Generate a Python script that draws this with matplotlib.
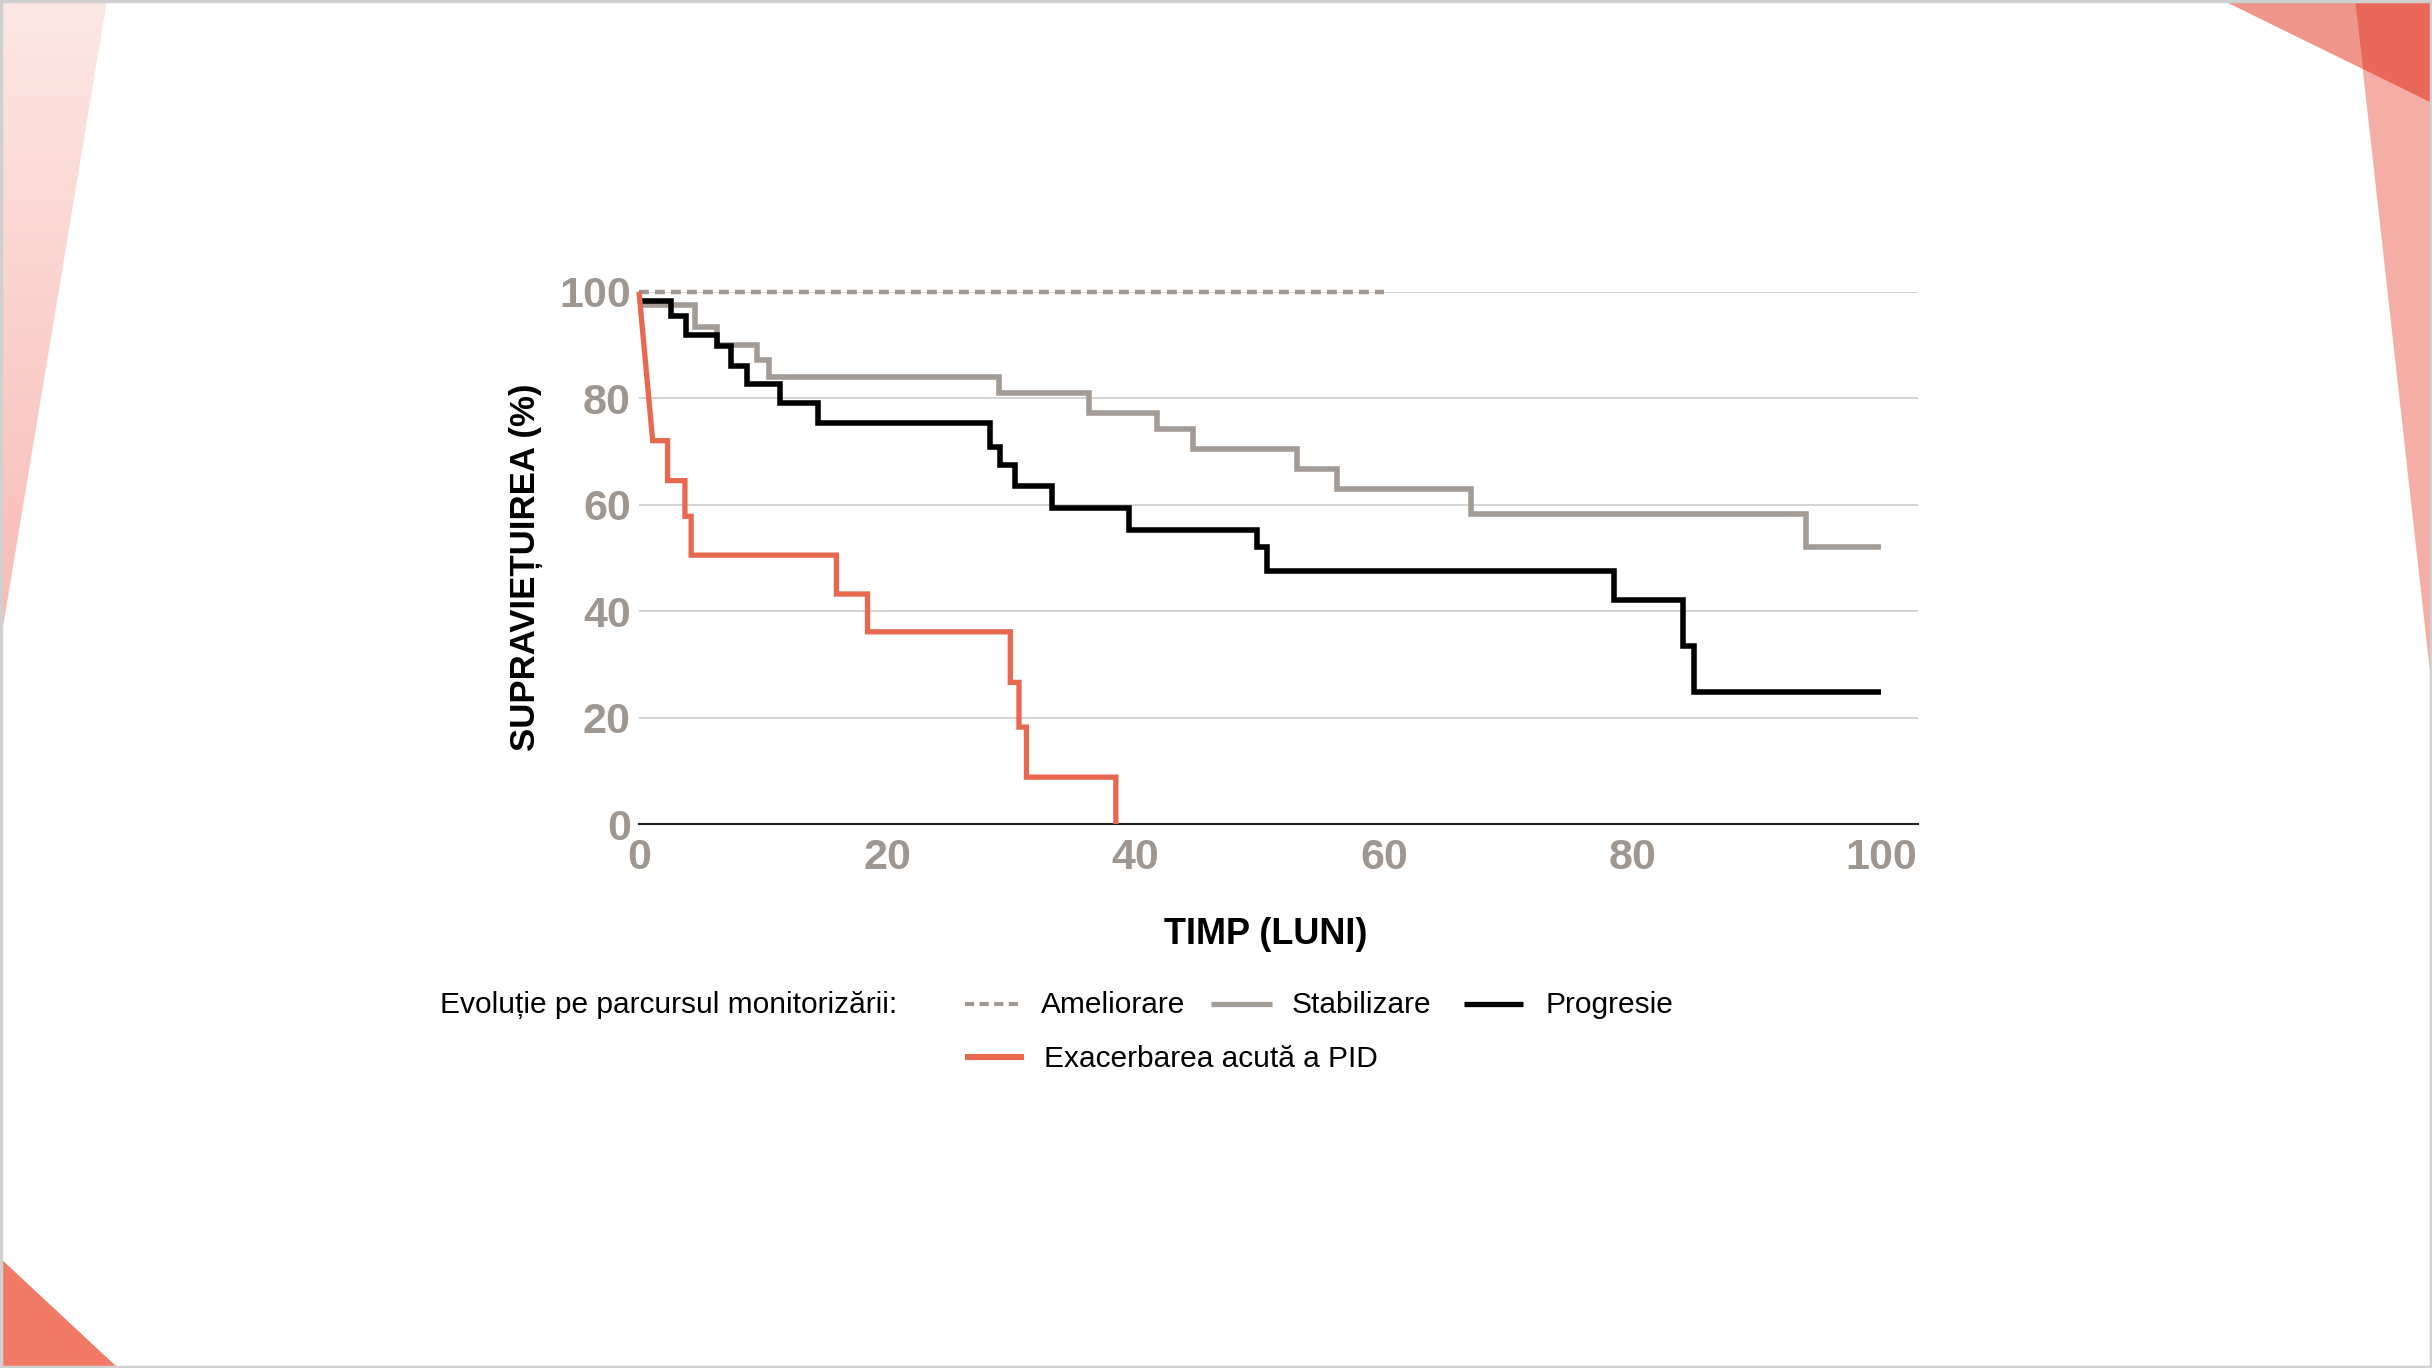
import numpy as np
import matplotlib
matplotlib.use("Agg")
import matplotlib.pyplot as plt
from matplotlib.patches import Polygon, Rectangle
from matplotlib.lines import Line2D

plt.rcParams['font.family'] = ['Liberation Sans', 'DejaVu Sans']

# --- data ---
# Ameliorare: stays at 100% until month 60
amel_t = [0, 60]
amel_s = [100, 100]

# Stabilizare: event times (months) and survival after each event (%)
stab_t = [0, 4.5, 6.3, 9.5, 10.5, 29.0, 36.2, 41.7, 44.6, 53.0, 56.2, 67.0, 94.0]
stab_s = [97.4, 93.4, 89.9, 87.1, 83.9, 81.0, 77.2, 74.2, 70.4, 66.7, 62.9, 58.2, 52.0]
stab_end = 100

# Progresie
prog_t = [0, 2.6, 3.8, 6.3, 7.4, 8.7, 11.35, 14.4, 28.25, 29.1, 30.3, 33.25,
          39.5, 49.75, 50.6, 78.5, 84.1, 85.0]
prog_s = [98.2, 95.4, 91.8, 89.8, 86.0, 82.6, 79.0, 75.3, 70.8, 67.5, 63.4, 59.3,
          55.2, 52.1, 47.6, 42.0, 33.4, 24.8]
prog_end = 100

# Exacerbarea acuta a PID (first drop drawn as a slope from 100%)
exac_t = [1.1, 2.3, 3.7, 4.2, 15.9, 18.4, 29.9, 30.6, 31.2, 38.4]
exac_s = [72, 64.5, 57.8, 50.5, 43.2, 36.1, 26.6, 18.2, 8.8, 0]

xticks = [0, 20, 40, 60, 80, 100]
yticks = [0, 20, 40, 60, 80, 100]

legend_title = "Evoluție pe parcursul monitorizării:"
names = ["Ameliorare", "Stabilizare", "Progresie", "Exacerbarea acută a PID"]

c_dash = '#A09893'
c_gray = '#A39B96'
c_black = '#000000'
c_red = '#E8674F'
c_tick = '#9E9690'

W, H = 2432, 1368
fig = plt.figure(figsize=(W / 100, H / 100), dpi=100)

# --- slide decoration ---
bg = fig.add_axes([0, 0, 1, 1], zorder=-5)
bg.set_xlim(0, W)
bg.set_ylim(H, 0)
bg.axis('off')
grad = np.linspace(0, 1, 256).reshape(-1, 1)
cmap = matplotlib.colors.LinearSegmentedColormap.from_list('pk', ['#FDE7E4', '#F8BAB3'])
im = bg.imshow(grad, cmap=cmap, extent=[0, 110, 650, 0], aspect='auto')
tri = Polygon([[0, 0], [107, 0], [0, 645]], closed=True, fc='none', ec='none')
bg.add_patch(tri)
im.set_clip_path(tri)
bg.add_patch(Polygon([[2222, 0], [2432, 0], [2432, 103]], fc='#EE968A', ec='none'))
bg.add_patch(Polygon([[2355, 0], [2432, 0], [2432, 690]], fc='#F4AEA5', ec='none'))
bg.add_patch(Polygon([[2355, 0], [2432, 0], [2432, 103], [2363, 69]], fc='#E8685A', ec='none'))
bg.add_patch(Polygon([[0, 1258], [118, 1368], [0, 1368]], fc='#F07A66', ec='none'))
bg.add_patch(Rectangle((1, 1), W - 2, H - 2, fc='none', ec='#D0D0D0', lw=2.5))

# --- chart ---
x0, x1, ytop, ybot = 639, 1918, 291.6, 824
ax = fig.add_axes([x0 / W, 1 - ybot / H, (x1 - x0) / W, (ybot - ytop) / H])
ax.set_xlim(0, 103)
ax.set_ylim(0, 100)
for s in ['top', 'right', 'left']:
    ax.spines[s].set_visible(False)
ax.spines['bottom'].set_color('#222222')
ax.spines['bottom'].set_linewidth(1.5)
ax.set_xticks(xticks)
ax.set_yticks(yticks)
ax.yaxis.grid(True, color='#CCCCCC', lw=1.2)
ax.set_axisbelow(True)
ax.tick_params(length=0, labelsize=31, labelcolor=c_tick)
ax.tick_params(axis='y', pad=6)
ax.tick_params(axis='x', pad=10)
for lab in ax.get_xticklabels() + ax.get_yticklabels():
    lab.set_fontweight('bold')

style = dict(solid_joinstyle='miter', solid_capstyle='butt', clip_on=False)

ax.plot(amel_t, amel_s, color=c_dash, lw=3.2, dashes=(2.2, 1.4), clip_on=False, zorder=3)
ax.step(stab_t + [stab_end], stab_s + [stab_s[-1]], where='post', color=c_gray, lw=4.0, zorder=4, **style)
ax.step(prog_t + [prog_end], prog_s + [prog_s[-1]], where='post', color=c_black, lw=4.0, zorder=5, **style)

ex_x, ex_y = [0], [100]
for i, (t, v) in enumerate(zip(exac_t, exac_s)):
    if i > 0:
        ex_x.append(t)
        ex_y.append(exac_s[i - 1])
    ex_x.append(t)
    ex_y.append(v)
ax.plot(ex_x, ex_y, color=c_red, lw=3.8, zorder=6, **style)

# axis titles
fig.text(526 / W, 1 - 567 / H, "SUPRAVIEȚUIREA (%)", rotation=90, ha='center', va='center',
         fontsize=25, fontweight='bold', color='black')
fig.text(1266 / W, 1 - 934 / H, "TIMP (LUNI)", ha='center', va='center',
         fontsize=26, fontweight='bold', color='black')

# legend
fs = 21.5
fig.text(440 / W, 1 - 1005 / H, legend_title, ha='left', va='center', fontsize=fs)
samples = [
    (965, 1019, 1004, c_dash, 3.0, '--', 1041, 1005),
    (1211, 1272, 1004, c_gray, 3.8, '-', 1292, 1005),
    (1464, 1523, 1004, c_black, 3.8, '-', 1545, 1005),
    (965, 1024, 1057, c_red, 4.4, '-', 1044, 1059),
]
for (xa, xb, yl, col, lw, ls, xt, yt), name in zip(samples, names):
    ln = Line2D([xa / W, xb / W], [1 - yl / H, 1 - yl / H], color=col, lw=lw, transform=fig.transFigure,
                solid_capstyle='butt', dash_capstyle='butt')
    if ls == '--':
        ln.set_dashes((2.2, 1.3))
    fig.add_artist(ln)
    fig.text(xt / W, 1 - yt / H, name, ha='left', va='center', fontsize=fs)

fig.savefig('out.png', dpi=100)
